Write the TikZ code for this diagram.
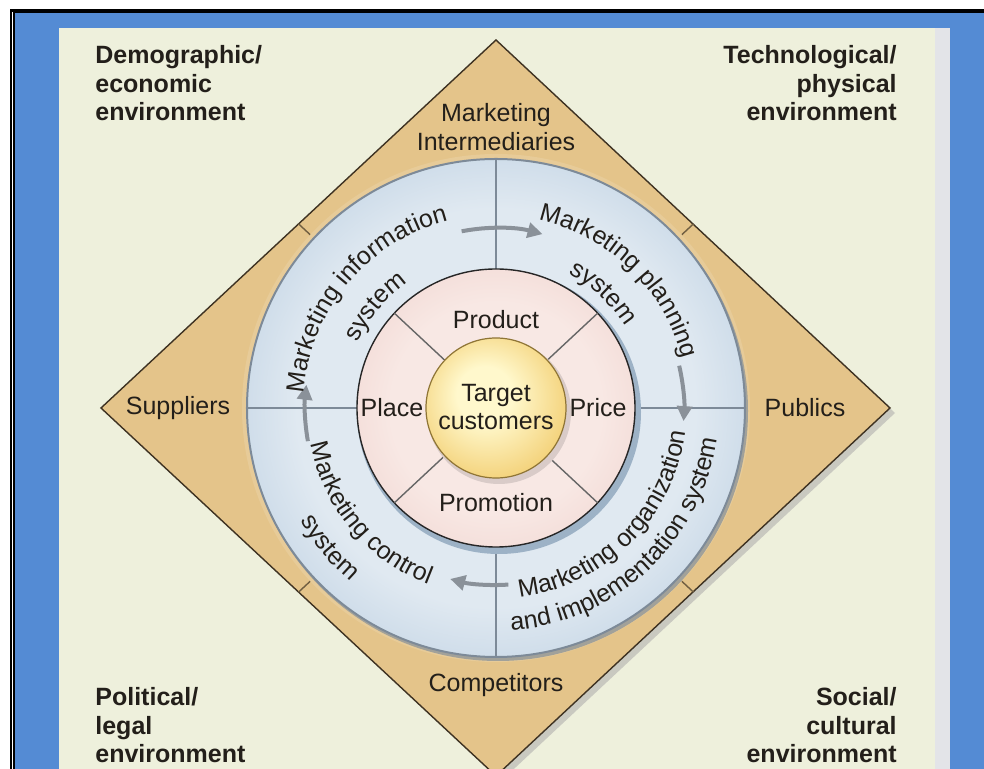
\documentclass[tikz,border=0pt]{standalone}
\usepackage{fontspec}
\setmainfont{Liberation Sans}
\usetikzlibrary{decorations.text,arrows.meta}

\definecolor{frameblue}{HTML}{548BD4}
\definecolor{panel}{HTML}{EEF0DC}
\definecolor{stripgray}{HTML}{E3E4E8}
\definecolor{bandtan}{HTML}{E4C48A}
\definecolor{edgebrown}{HTML}{3E3222}
\definecolor{shadowgray}{HTML}{C9C9C0}
\definecolor{ringin}{HTML}{E0E9F1}
\definecolor{ringout}{HTML}{AFC6DC}
\definecolor{ringline}{HTML}{7D8A98}
\definecolor{ringshadow}{HTML}{9DB2C6}
\definecolor{pinkin}{HTML}{F8E8E4}
\definecolor{pinkout}{HTML}{EFD2CD}
\definecolor{ylwin}{HTML}{FFF8CC}
\definecolor{ylwout}{HTML}{EFC35A}
\definecolor{arrowgray}{HTML}{8A9199}
\definecolor{ink}{HTML}{231F1A}

\pgfdeclareradialshading{ringshade}{\pgfpoint{0bp}{0bp}}{color(0bp)=(ringin); color(20bp)=(ringin); color(35bp)=(ringout); color(50bp)=(ringout)}
\pgfdeclareradialshading{pinkshade}{\pgfpoint{0bp}{0bp}}{color(0bp)=(pinkin); color(19bp)=(pinkin); color(35bp)=(pinkout); color(50bp)=(pinkout)}
\pgfdeclareradialshading{ylwshade}{\pgfpoint{-5bp}{6bp}}{color(0bp)=(ylwin); color(10bp)=(ylwin); color(36bp)=(ylwout); color(50bp)=(ylwout)}

\tikzset{
  envlabel/.style={font=\bfseries, text=ink, inner sep=0pt},
  bandlabel/.style={text=ink, align=center, inner sep=0pt},
  ringdiv/.style={draw=ringline, line width=0.8pt},
  banddiv/.style={draw=edgebrown!70!bandtan, line width=0.7pt},
  petaldiv/.style={draw=black!60, line width=0.7pt},
  cyclearrow/.style={draw=arrowgray, line width=2pt, -{Triangle[length=7.5pt,width=7.5pt]}},
  ringtext/.style={decorate, decoration={text along path, text align=center, text color=ink, text={#1}}}
}

\begin{document}
\begin{tikzpicture}[x=0.5pt,y=0.5pt]
\fontsize{12.5}{14.3}\selectfont
\useasboundingbox (-496,-361) rectangle (488,408);
\clip (-496,-361) rectangle (488,408);

% frame and panel
\fill[white] (-496,-361) rectangle (488,408);
\fill[black] (-486,-361) rectangle (488,399);
\fill[white] (-484,-361) rectangle (-483,396);
\fill[frameblue] (-481,-361) rectangle (488,395);
\fill[panel] (-437,-361) rectangle (439,380);
\fill[stripgray] (439,-361) rectangle (454,380);

% diamond
\coordinate (top) at (0,368);
\coordinate (rgt) at (394,0);
\coordinate (bot) at (0,-368);
\coordinate (lft) at (-395,0);
\fill[shadowgray] (5,363)--(399,-5)--(5,-373)--(-390,-5)--cycle;
\filldraw[fill=bandtan, draw=edgebrown, line width=0.7pt] (top)--(rgt)--(bot)--(lft)--cycle;
\foreach \a in {43,137,223,317}
  \draw[banddiv] (\a:249) -- (\a:270);

% blue ring
\fill[bandtan!88!white] (0,0) circle (254);
\fill[shadowgray!80!black] (2,-3) circle (250);
\shade[shading=ringshade] (0,0) circle (249);
\draw[ringline, line width=1pt] (0,0) circle (249);
\foreach \a in {0,90,180,270}
  \draw[ringdiv] (\a:139) -- (\a:249);

% pink ring
\fill[ringshadow] (3,-4) circle (142);
\shade[shading=pinkshade] (0,0) circle (139);
\draw[black!85, line width=0.7pt] (0,0) circle (139);
\foreach \a in {43,137,223,317}
  \draw[petaldiv] (\a:70) -- (\a:139);

% center
\fill[pinkout!80!black!60] (3,-4) circle (72);
\shade[shading=ylwshade] (0,0) circle (70);
\draw[ylwout!60!black, line width=0.6pt] (0,0) circle (70);

% cycle arrows
\draw[cyclearrow] (101:180) arc[start angle=101, end angle=75, radius=180];
\draw[cyclearrow] (13:188) arc[start angle=13, end angle=-4, radius=188];
\draw[cyclearrow] (274:177) arc[start angle=274, end angle=255, radius=177];
\draw[cyclearrow] (190:191) arc[start angle=190, end angle=173, radius=191];

% texts on the ring
\path[ringtext={Marketing information}] (185:193) arc[start angle=185, end angle=95, radius=193];
\path[ringtext={system}] (175:153) arc[start angle=175, end angle=105, radius=153];
\path[ringtext={Marketing planning}] (91:193) arc[start angle=91, end angle=1, radius=193];
\path[ringtext={system}] (82:153) arc[start angle=82, end angle=12, radius=153];
\path[ringtext={Marketing organization}] (-97:191) arc[start angle=-97, end angle=7, radius=191];
\path[ringtext={and implementation system}] (-100:223) arc[start angle=-100, end angle=6, radius=223];
\path[ringtext={Marketing control}] (180:189) arc[start angle=180, end angle=260, radius=189];
\path[ringtext={system}] (185:226) arc[start angle=185, end angle=255, radius=226];

% labels
\node[bandlabel] (inter) at (0,281) {Marketing\\Intermediaries};
\node[bandlabel] (supp) at (-318,0) {Suppliers};
\node[bandlabel] (publ) at (309,0) {Publics};
\node[bandlabel] (comp) at (0,-277) {Competitors};

\node[bandlabel] (prod) at (0,88) {Product};
\node[bandlabel] (price) at (102,0) {Price};
\node[bandlabel] (promo) at (0,-95) {Promotion};
\node[bandlabel] (place) at (-104,0) {Place};
\node[bandlabel] (target) at (0,1) {Target\\customers};

\node[envlabel, anchor=north west, align=left] (demo) at (-401,363) {Demographic/\\economic\\environment};
\node[envlabel, anchor=north east, align=right] (tech) at (401,363) {Technological/\\physical\\environment};
\node[envlabel, anchor=north west, align=left] (poli) at (-401,-279) {Political/\\legal\\environment};
\node[envlabel, anchor=north east, align=right] (soc) at (401,-279) {Social/\\cultural\\environment};
\end{tikzpicture}
\end{document}
